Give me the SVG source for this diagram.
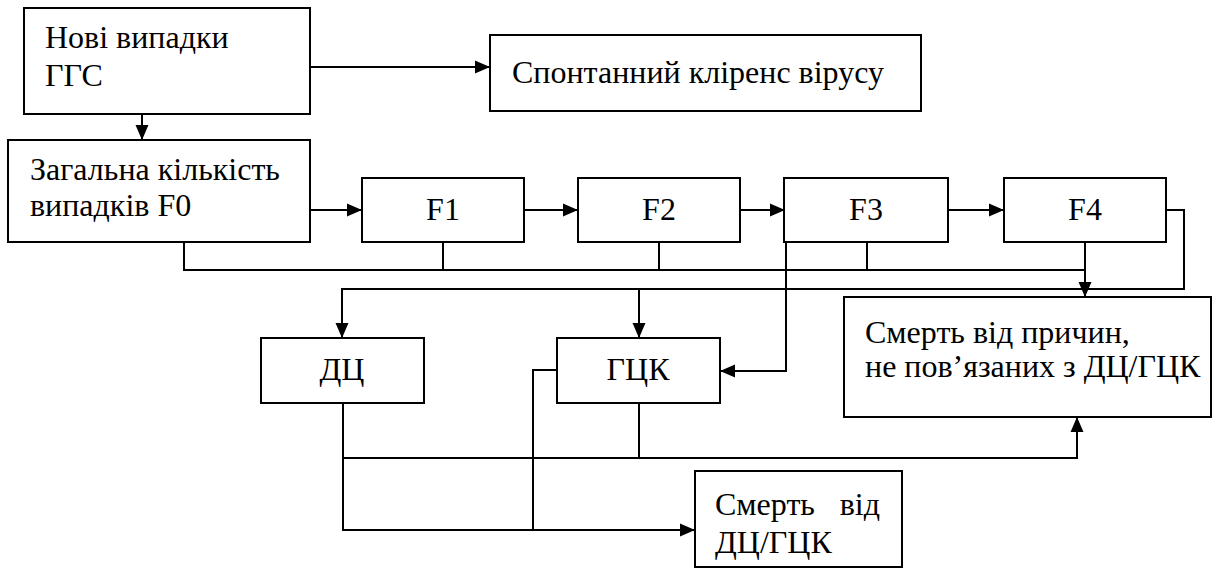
<svg xmlns="http://www.w3.org/2000/svg" width="1218" height="577" viewBox="0 0 1218 577">
<style>
.box{fill:#fff;stroke:#000;stroke-width:2}
.t{font-family:'Liberation Serif','Times New Roman',serif;font-size:32px;fill:#000}
.c{text-anchor:middle}
.ln{fill:none;stroke:#000;stroke-width:2}
</style>
<defs>
<marker id="ah" markerUnits="userSpaceOnUse" markerWidth="16" markerHeight="14" refX="15" refY="7" orient="auto" overflow="visible">
<path d="M0,0.5 L15,7 L0,13.5 z" fill="#000"/>
</marker>
</defs>
<rect width="1218" height="577" fill="#fff"/>
<g id="connectors">
<path class="ln" d="M310,67 H490" marker-end="url(#ah)"/>
<path class="ln" d="M142,114 V140" marker-end="url(#ah)"/>
<path class="ln" d="M310,210 H362" marker-end="url(#ah)"/>
<path class="ln" d="M524,210 H578" marker-end="url(#ah)"/>
<path class="ln" d="M740,210 H785" marker-end="url(#ah)"/>
<path class="ln" d="M948,210 H1004" marker-end="url(#ah)"/>
<path class="ln" d="M184,242 V270 H1085"/>
<path class="ln" d="M443,242 V270 M659,242 V270 M867,242 V270"/>
<path class="ln" d="M1085,242 V297" marker-end="url(#ah)"/>
<path class="ln" d="M1166,210 H1184 V289 H342 V338" marker-end="url(#ah)"/>
<path class="ln" d="M639,289 V338" marker-end="url(#ah)"/>
<path class="ln" d="M786,210 V371 H720" marker-end="url(#ah)"/>
<path class="ln" d="M343,403 V458 H1077 V417" marker-end="url(#ah)"/>
<path class="ln" d="M639,403 V458"/>
<path class="ln" d="M343,458 V530 H695" marker-end="url(#ah)"/>
<path class="ln" d="M557,370 H533 V530"/>
</g>
<g id="new-cases">
<rect class="box" x="24" y="8" width="286" height="106"/>
<text class="t" x="45" y="48">Нові випадки</text>
<text class="t" x="45" y="86">ГГС</text>
</g>
<g id="clearance">
<rect class="box" x="490" y="35" width="431" height="76"/>
<text class="t" x="512" y="83">Спонтанний кліренс вірусу</text>
</g>
<g id="f0">
<rect class="box" x="8" y="140" width="302" height="102"/>
<text class="t" x="30" y="180">Загальна кількість</text>
<text class="t" x="30" y="216">випадків F0</text>
</g>
<g id="f1">
<rect class="box" x="362" y="178" width="162" height="64"/>
<text class="t c" x="443" y="220">F1</text>
</g>
<g id="f2">
<rect class="box" x="578" y="178" width="162" height="64"/>
<text class="t c" x="659" y="220">F2</text>
</g>
<g id="f3">
<rect class="box" x="784" y="178" width="164" height="64"/>
<text class="t c" x="866" y="220">F3</text>
</g>
<g id="f4">
<rect class="box" x="1004" y="178" width="162" height="64"/>
<text class="t c" x="1085" y="220">F4</text>
</g>
<g id="dc">
<rect class="box" x="261" y="338" width="163" height="65"/>
<text class="t c" x="342" y="380">ДЦ</text>
</g>
<g id="hck">
<rect class="box" x="557" y="338" width="163" height="65"/>
<text class="t c" x="638" y="380">ГЦК</text>
</g>
<g id="death-other">
<rect class="box" x="844" y="297" width="367" height="120"/>
<text class="t" x="865" y="343">Смерть від причин,</text>
<text class="t" x="865" y="377">не пов’язаних з ДЦ/ГЦК</text>
</g>
<g id="death-dc-hck">
<rect class="box" x="695" y="471" width="207" height="96"/>
<text class="t" x="715" y="515">Смерть</text>
<text class="t" x="880" y="515" text-anchor="end">від</text>
<text class="t" x="715" y="553">ДЦ/ГЦК</text>
</g>
</svg>
